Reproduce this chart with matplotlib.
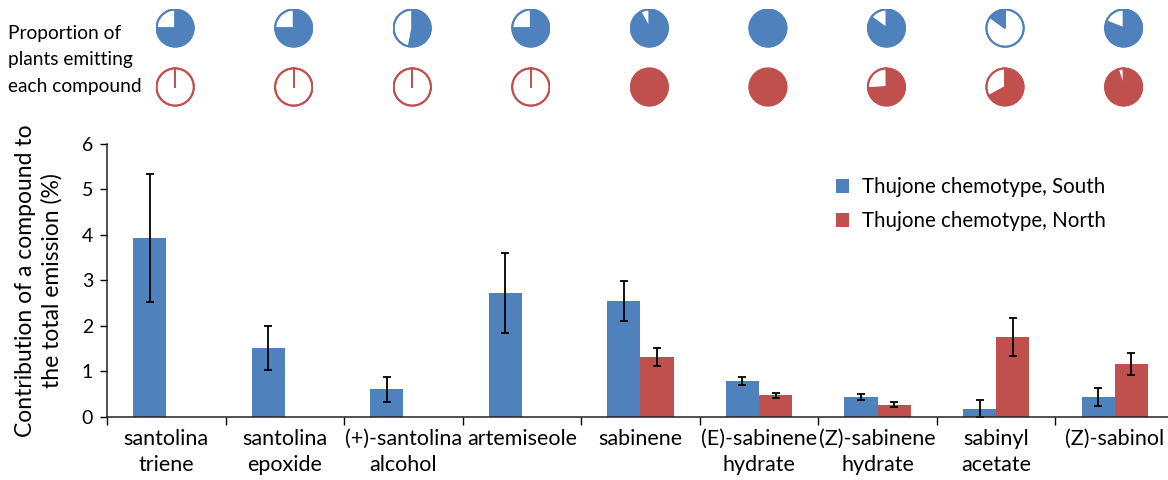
import numpy as np
import matplotlib.pyplot as plt
from matplotlib.patches import Wedge, Circle

plt.rcParams['font.family'] = ['Lato', 'DejaVu Sans']

# compounds and mean contribution (%) with error bars
compounds = ['santolina\ntriene', 'santolina\nepoxide', '(+)-santolina\nalcohol',
             'artemiseole', 'sabinene', '(E)-sabinene\nhydrate',
             '(Z)-sabinene\nhydrate', 'sabinyl\nacetate', '(Z)-sabinol']
south_mean = [3.94, 1.51, 0.60, 2.73, 2.55, 0.78, 0.43, 0.18, 0.43]
south_err = [1.41, 0.48, 0.27, 0.88, 0.44, 0.085, 0.07, 0.18, 0.20]
north_mean = [0, 0, 0, 0, 1.31, 0.47, 0.26, 1.76, 1.16]
north_err = [0, 0, 0, 0, 0.20, 0.055, 0.055, 0.42, 0.245]

# share of plants emitting each compound
south_share = [0.75, 0.75, 0.53, 0.75, 0.92, 1.0, 0.85, 0.15, 0.81]
north_share = [0, 0, 0, 0, 1.0, 1.0, 0.74, 0.67, 0.95]
south_fill_last = [False, False, False, False, False, False, False, True, False]

labels = ['Thujone chemotype, South', 'Thujone chemotype, North']
blue = '#4F81BD'
red = '#C0504D'

fig = plt.figure(figsize=(11.68, 4.8), dpi=100)
ax = fig.add_axes([107 / 1168, 63.3 / 480, 1067 / 1168, 272.7 / 480])

x = np.arange(len(compounds))
w = 0.28
ax.bar(x - w / 2, south_mean, w, color=blue, label=labels[0])
ax.bar(x + w / 2, north_mean, w, color=red, label=labels[1])

ekw = dict(fmt='none', ecolor='black', elinewidth=1.3, capsize=3, capthick=1.3)
ax.errorbar(x - w / 2, south_mean, yerr=south_err, **ekw)
nm = np.array(north_mean) > 0
ax.errorbar((x + w / 2)[nm], np.array(north_mean)[nm], yerr=np.array(north_err)[nm], **ekw)

ax.set_xlim(-0.5, len(compounds) - 0.5)
ax.set_ylim(0, 6)
ax.set_yticks(range(7))
ax.set_xticks(np.arange(len(compounds) + 1) - 0.5)
ax.set_xticklabels([])
ax.set_xticks(x, compounds, minor=True)
ax.tick_params(axis='x', which='major', direction='out', length=6, width=1)
ax.tick_params(axis='x', which='minor', length=0, pad=9, labelsize=15.5)
ax.tick_params(axis='y', direction='out', length=5, width=1, labelsize=14, pad=5)
for lbl in ax.get_xticklabels(minor=True):
    lbl.set_linespacing(1.38)
for s in ['top', 'right']:
    ax.spines[s].set_visible(False)
for s in ['left', 'bottom']:
    ax.spines[s].set_color('#222222')
    ax.spines[s].set_linewidth(1.1)
ax.set_ylabel('Contribution of a compound to\nthe total emission (%)', fontsize=16.5,
              linespacing=1.3, labelpad=14)

ax.legend(loc='upper left', bbox_to_anchor=(0.666, 0.945), frameon=False, fontsize=14.8,
          handlelength=0.65, handleheight=0.65, handletextpad=0.6, labelspacing=0.68)


# small pies above each compound
def draw_pie(pax, share, color, fill_last=False):
    pax.set_xlim(-1.05, 1.05)
    pax.set_ylim(-1.05, 1.05)
    pax.set_aspect('equal')
    pax.axis('off')
    span = 360 * share
    if fill_last:
        filled = (90, 90 + span)
        empty = (90 + span, 450)
    else:
        filled = (90 - span, 90)
        empty = (90, 450 - span)
    if share < 1:
        pax.add_patch(Wedge((0, 0), 1, *empty, facecolor='white', edgecolor=color, lw=1.4))
    if share > 0:
        pax.add_patch(Wedge((0, 0), 1, *filled, facecolor=color, edgecolor=color, lw=0.8))
    else:
        pax.plot([0, 0], [0, 1], color=color, lw=1.4)
    pax.add_patch(Circle((0, 0), 1, fill=False, edgecolor=color, lw=1.4))


pw, ph = 0.33, 0.145
for i in range(len(compounds)):
    for yc, share, color, last in ((1.425, south_share[i], blue, south_fill_last[i]),
                                   (1.209, north_share[i], red, False)):
        pax = ax.inset_axes([i + 0.075 - pw / 2, yc - ph / 2, pw, ph],
                            transform=ax.get_xaxis_transform())
        draw_pie(pax, share, color, last)

fig.text(8 / 1168, 1 - 60 / 480, 'Proportion of\nplants emitting\neach compound',
         fontsize=13.8, va='center', ha='left', linespacing=1.66)

fig.savefig('out.png', dpi=100)
